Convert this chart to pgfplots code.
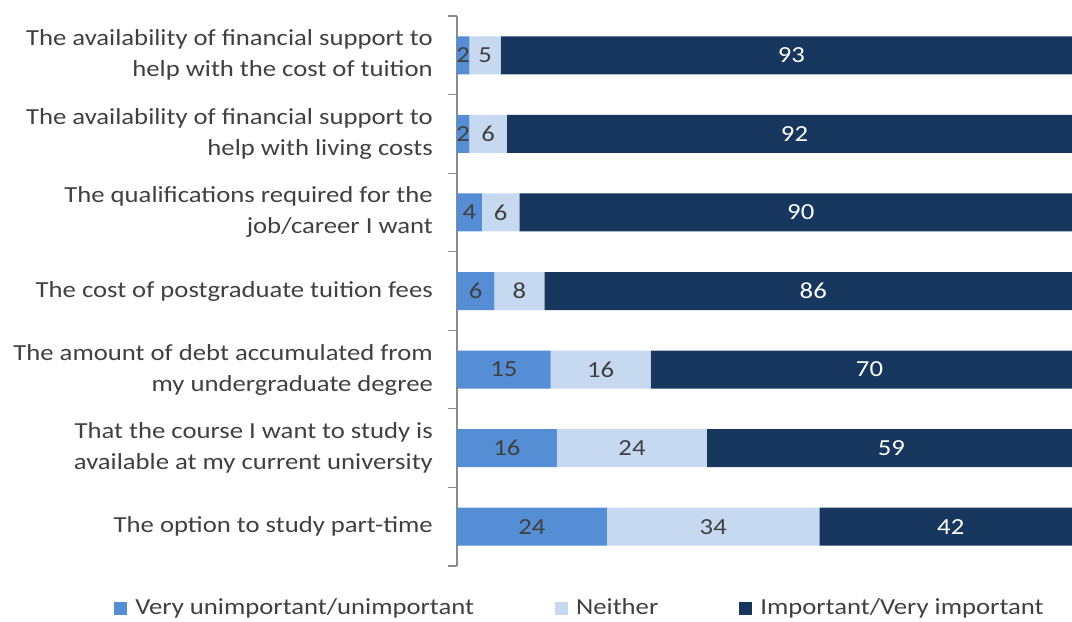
\documentclass[border=0pt]{standalone}
\usepackage{pgfplots}
\pgfplotsset{compat=1.18}
\usepackage{fontspec}
\setmainfont{Carlito}[FakeStretch=1.16]
\definecolor{cMed}{HTML}{558ED5}
\definecolor{cLight}{HTML}{C6D9F1}
\definecolor{cDark}{HTML}{17375E}
\definecolor{cText}{HTML}{404040}
\definecolor{cAxis}{HTML}{8C8C8C}
\begin{document}
\fontsize{23bp}{31bp}\selectfont
\begin{tikzpicture}
\path[use as bounding box] (-457bp,-56bp) rectangle (615bp,566bp);
\begin{axis}[
  scale only axis,
  width=625bp, height=550bp,
  xbar stacked,
  bar width=38bp,
  xmin=0, xmax=100,
  ymin=-0.5, ymax=6.5,
  y dir=reverse,
  axis x line=none,
  axis y line*=left,
  y axis line style={cAxis, line width=1.2pt},
  ytick={0,...,6},
  yticklabels={
    {The availability of financial support to\\help with the cost of tuition},
    {The availability of financial support to\\help with living costs},
    {The qualifications required for the\\job/career I want},
    {The cost of postgraduate tuition fees},
    {The amount of debt accumulated from\\my undergraduate degree},
    {That the course I want to study is\\available at my current university},
    {The option to study part-time}},
  minor ytick={-0.5,0.5,...,6.5},
  major tick length=0pt,
  minor tick length=9bp,
  tick align=outside,
  minor tick style={cAxis, line width=1.2pt},
  yticklabel style={align=right, text=cText, inner sep=0pt, xshift=-24bp, font=\fontsize{23bp}{31bp}\selectfont},
  nodes near coords,
  point meta=explicit symbolic,
  every node near coord/.append style={font=\fontsize{23bp}{25bp}\selectfont, text=cText},
  legend columns=3,
  legend style={at={(0.1968,-0.0764)}, anchor=center, draw=none, fill=none, font=\fontsize{23bp}{25bp}\selectfont, text=cText,
    /tikz/every even column/.append style={column sep=79bp}},
  legend image code/.code={\fill[#1] (0bp,-6.5bp) rectangle (13bp,6.5bp); \path (19bp,0bp);},
  clip=false,
]
\addplot[fill=cMed, draw=none] coordinates {(2,0) [2] (2,1) [2] (4,2) [4] (6,3) [6] (15,4) [15] (16,5) [16] (24,6) [24]};
\addplot[fill=cLight, draw=none] coordinates {(5,0) [5] (6,1) [6] (6,2) [6] (8,3) [8] (16,4) [16] (24,5) [24] (34,6) [34]};
\addplot[fill=cDark, draw=none, every node near coord/.append style={text=white}] coordinates {(93,0) [93] (92,1) [92] (90,2) [90] (86,3) [86] (70,4) [70] (59,5) [59] (42,6) [42]};
\legend{Very unimportant/unimportant, Neither, Important/Very important}
\end{axis}
\end{tikzpicture}
\end{document}
